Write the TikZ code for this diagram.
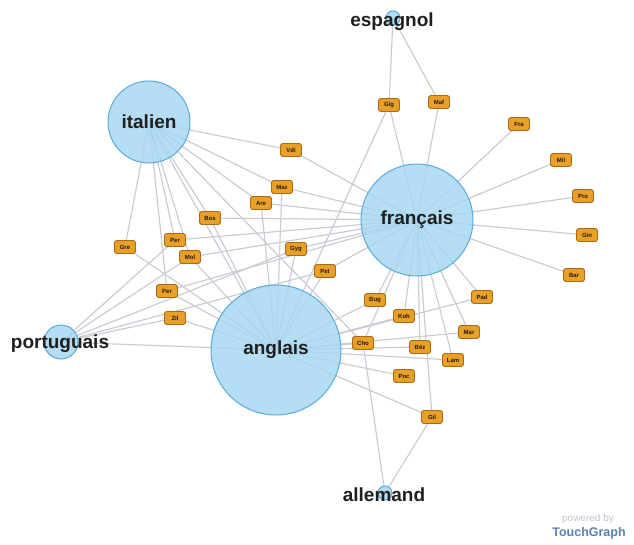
\documentclass[tikz,border=0pt]{standalone}
\usepackage{fontspec}
\setmainfont{Liberation Sans}
\usetikzlibrary{backgrounds}

\definecolor{langfill}{HTML}{A5D7F2}
\definecolor{langdraw}{HTML}{5AAADC}
\definecolor{authfill}{HTML}{E8A028}
\definecolor{authdraw}{HTML}{A86A14}
\definecolor{linkgray}{HTML}{C8CCD4}
\definecolor{tgblue}{HTML}{5A7FB5}
\definecolor{tggray}{HTML}{BCC3CE}

\begin{document}
\begin{tikzpicture}[
	x=1pt, y=-1pt,
	lang/.style={% language circles
		circle,
		draw=langdraw,
		line width=1pt,
		fill=langfill,
		fill opacity=0.82,
		text opacity=1,
		inner sep=0pt,
		font=\fontsize{19}{20}\selectfont\bfseries,
		text=black!88
	},
	langlabel/.style={
		font=\fontsize{19}{20}\selectfont\bfseries,
		text=black!88,
		inner sep=0pt
	},
	auth/.style={
		rectangle,
		rounded corners=2.5pt,
		draw=authdraw,
		line width=0.9pt,
		fill=authfill,
		minimum width=21pt,
		minimum height=13pt,
		inner sep=1pt,
		font=\fontsize{6}{7}\selectfont\bfseries,
		text=black!80!brown
	},
	link/.style={
		draw=linkgray,
		line width=1.2pt
	},
]
	\useasboundingbox (0,0) rectangle (634,545);

	% languages
	\node [lang, minimum size=82pt] (ital) at (149,122) {italien};
	\node [lang, minimum size=112pt] (fran) at (417,220) {français};
	\node [lang, minimum size=130pt] (angl) at (276,350) {anglais};
	\node [lang, minimum size=34pt] (port) at (61,342) {};
	\node [lang, minimum size=14pt] (espa) at (393,18) {};
	\node [lang, minimum size=14pt] (alle) at (385,493) {};
	\node [langlabel] (port-lbl) at (60,344) {portuguais};
	\node [langlabel] (espa-lbl) at (392,22) {espagnol};
	\node [langlabel] (alle-lbl) at (384,495) {allemand};

	% authors
	\node [auth] (gig) at (389,105) {Gig};
	\node [auth] (maf) at (439,102) {Maf};
	\node [auth] (fra) at (519,124) {Fra};
	\node [auth] (mil) at (561,160) {Mil};
	\node [auth] (pro) at (583,196) {Pro};
	\node [auth] (gin) at (587,235) {Gin};
	\node [auth] (bar) at (574,275) {Bar};
	\node [auth] (vdi) at (291,150) {Vdi};
	\node [auth] (maz) at (282,187) {Maz};
	\node [auth] (are) at (261,203) {Are};
	\node [auth] (bos) at (210,218) {Bos};
	\node [auth] (per1) at (175,240) {Per};
	\node [auth] (gre) at (125,247) {Gre};
	\node [auth] (mol) at (190,257) {Mol};
	\node [auth] (gyg) at (296,249) {Gyg};
	\node [auth] (pet) at (325,271) {Pet};
	\node [auth] (per2) at (167,291) {Per};
	\node [auth] (zil) at (175,318) {Zil};
	\node [auth] (bug) at (375,300) {Bug};
	\node [auth] (pad) at (482,297) {Pad};
	\node [auth] (koh) at (404,316) {Koh};
	\node [auth] (mar) at (469,332) {Mar};
	\node [auth] (cho) at (363,343) {Cho};
	\node [auth] (bez) at (420,347) {Béz};
	\node [auth] (lam) at (453,360) {Lam};
	\node [auth] (poc) at (404,376) {Poc};
	\node [auth] (gil) at (432,417) {Gil};

	% logo
	\node [font=\fontsize{10}{11}\selectfont, text=tggray, inner sep=0pt] (powered) at (588,519) {powered by};
	\node [font=\fontsize{12.5}{13}\selectfont\bfseries, text=tgblue, inner sep=0pt] (tg) at (589,533) {TouchGraph};

	\begin{scope}[on background layer]
		\foreach \a in {gig,maf}
			\draw [link] (espa.center) -- (\a.center);
		\foreach \a in {cho,gil}
			\draw [link] (alle.center) -- (\a.center);
		\foreach \a in {vdi,maz,are,bos,gre,per1,mol,per2,cho,angl}
			\draw [link] (ital.center) -- (\a.center);
		\foreach \a in {gig,maf,fra,mil,pro,gin,bar,vdi,maz,are,bos,per1,mol,gyg,pet,per2,bug,pad,koh,mar,cho,bez,lam,gil}
			\draw [link] (fran.center) -- (\a.center);
		\foreach \a in {gig,maz,are,bos,gre,mol,gyg,pet,per2,zil,bug,pad,koh,mar,cho,bez,lam,poc,gil}
			\draw [link] (angl.center) -- (\a.center);
		\foreach \a in {per1,mol,gyg,pet,zil,angl}
			\draw [link] (port.center) -- (\a.center);
	\end{scope}
\end{tikzpicture}
\end{document}
